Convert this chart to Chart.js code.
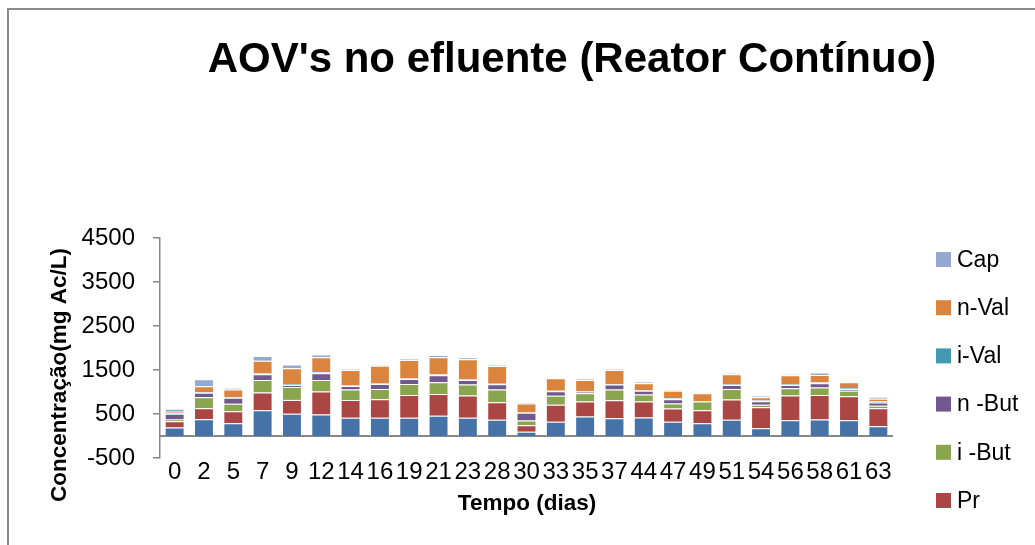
<!DOCTYPE html>
<html>
<head>
<meta charset="utf-8">
<script src="https://cdn.jsdelivr.net/npm/chart.js@4/dist/chart.umd.min.js"></script>
<style>
  html, body { margin: 0; padding: 0; background: #fff; }
  #wrap { position: relative; width: 1035px; height: 545px; overflow: hidden; }
  #frame { position: absolute; left: 7px; top: 8px; width: 1040px; height: 560px;
           border-left: 2px solid #8a8a8a; border-top: 2px solid #8a8a8a; }
  canvas { position: absolute; left: 0; top: 0; }
</style>
</head>
<body>
<div id="wrap">
  <div id="frame"></div>
  <canvas id="c" width="1035" height="545"></canvas>
</div>
<script>
const days = ['0','2','5','7','9','12','14','16','19','21','23','28','30','33','35','37','44','47','49','51','54','56','58','61','63'];
const Ac   = [193,381,291,586,503,488,413,413,413,458,413,367, 95,322,443,405,420,322,291,367,178,360,375,360,223];
const Pr   = [144,250,272,401,318,522,408,423,521,499,506,401,151,386,340,408,363,302,295,461,477,559,559,544,408];
const iBut = [ 38,250,168,288,295,265,235,234,250,265,250,288,106,204,189,243,159,114,197,242, 53,167,166,122, 54];
const nBut = [129,100,136,128, 40,150, 83,114,114,158,106,120,174,106, 36,113, 84, 98, 10, 91, 83, 75, 99, 44, 75];
const iVal = [ 15, 20, 15, 20, 25, 25, 10, 10, 10, 23, 10, 10, 10, 10, 10, 10, 19, 23,  5, 15, 15, 15, 23, 23, 23];
const nVal = [ 30,130,174,290,360,340,353,400,421,387,459,407,202,285,257,323,154,167,174,227, 75,204,167,129, 61];
const Cap  = [ 68,160, 38,106, 83, 60, 15, 17, 23, 53, 46, 15, 22, 15, 23, 15, 38, 19, 15, 23, 31, 23, 52, 15, 46];

const seriesNames  = ['Ac','Pr','i -But','n -But','i-Val','n-Val','Cap'];
const seriesData   = [Ac, Pr, iBut, nBut, iVal, nVal, Cap];
const seriesColors = ['#4572A7','#AA4643','#89A54E','#71588F','#4198AF','#DB843D','#93A9CF'];

const yMin = -500, yMax = 4500, yStep = 1000;
const titleText = "AOV's no efluente (Reator Contínuo)";
const yTitle = 'Concentração(mg Ac/L)';
const xTitle = 'Tempo (dias)';

const FONT = "'Liberation Sans', Arial, sans-serif";

const decor = {
  id: 'decor',
  beforeDatasetsDraw(chart) {
    const ctx = chart.ctx;
    const y = chart.scales.y, a = chart.chartArea;
    const y0 = y.getPixelForValue(0);
    ctx.save();
    ctx.strokeStyle = '#868686';
    ctx.lineWidth = 2;
    ctx.beginPath();
    ctx.moveTo(a.left, y0);
    ctx.lineTo(a.right, y0);
    ctx.stroke();
    ctx.restore();
  },
  afterDraw(chart) {
    const ctx = chart.ctx;
    ctx.save();
    ctx.fillStyle = '#000';
    // title
    ctx.font = 'bold 42px ' + FONT;
    ctx.textAlign = 'center';
    ctx.textBaseline = 'alphabetic';
    ctx.fillText(titleText, 572, 72);
    // x title
    ctx.font = 'bold 22.5px ' + FONT;
    ctx.fillText(xTitle, 527, 510);
    // y title
    ctx.save();
    ctx.translate(66, 375);
    ctx.rotate(-Math.PI / 2);
    ctx.fillText(yTitle, 0, 0);
    ctx.restore();
    // legend (reversed order); entries beyond the bottom edge are cut off
    ctx.font = '23px ' + FONT;
    ctx.textAlign = 'left';
    ctx.textBaseline = 'middle';
    const ds = chart.data.datasets;
    for (let i = 0; i < ds.length; i++) {
      const d = ds[ds.length - 1 - i];
      const cy = 259.5 + i * 48.2;
      if (cy + 10 > chart.height) break;
      ctx.fillStyle = d.backgroundColor;
      ctx.fillRect(936, cy - 7.5, 15, 15);
      ctx.fillStyle = '#000';
      ctx.fillText(d.label, 957, cy + 1);
    }
    ctx.restore();
  }
};

new Chart(document.getElementById('c'), {
  type: 'bar',
  data: {
    labels: days,
    datasets: seriesNames.map((n, i) => ({
      label: n,
      data: seriesData[i],
      backgroundColor: seriesColors[i],
      borderColor: 'rgba(255,255,255,0.3)',
      borderWidth: 1,
      categoryPercentage: 1,
      barPercentage: 0.68
    }))
  },
  options: {
    responsive: false,
    animation: false,
    devicePixelRatio: 1,
    layout: { padding: { top: 238, right: 142, bottom: 0, left: 0 } },
    plugins: {
      legend: { display: false },
      title: { display: false },
      tooltip: { enabled: false }
    },
    scales: {
      x: {
        stacked: true,
        grid: { display: false, drawTicks: false },
        border: { display: false },
        ticks: { color: '#000', font: { family: FONT, size: 24 }, padding: 0, maxRotation: 0, autoSkip: false },
        afterFit(s) { s.height = 87; }
      },
      y: {
        stacked: true,
        min: yMin, max: yMax,
        ticks: { stepSize: yStep, color: '#000', font: { family: FONT, size: 24 }, padding: 18, callback: v => String(v) },
        grid: { drawOnChartArea: false, drawTicks: true, tickLength: 7, color: '#868686', lineWidth: 1.5 },
        border: { color: '#868686', width: 1.5 },
        afterFit(s) { s.width = 160; }
      }
    }
  },
  plugins: [decor]
});
</script>
</body>
</html>
